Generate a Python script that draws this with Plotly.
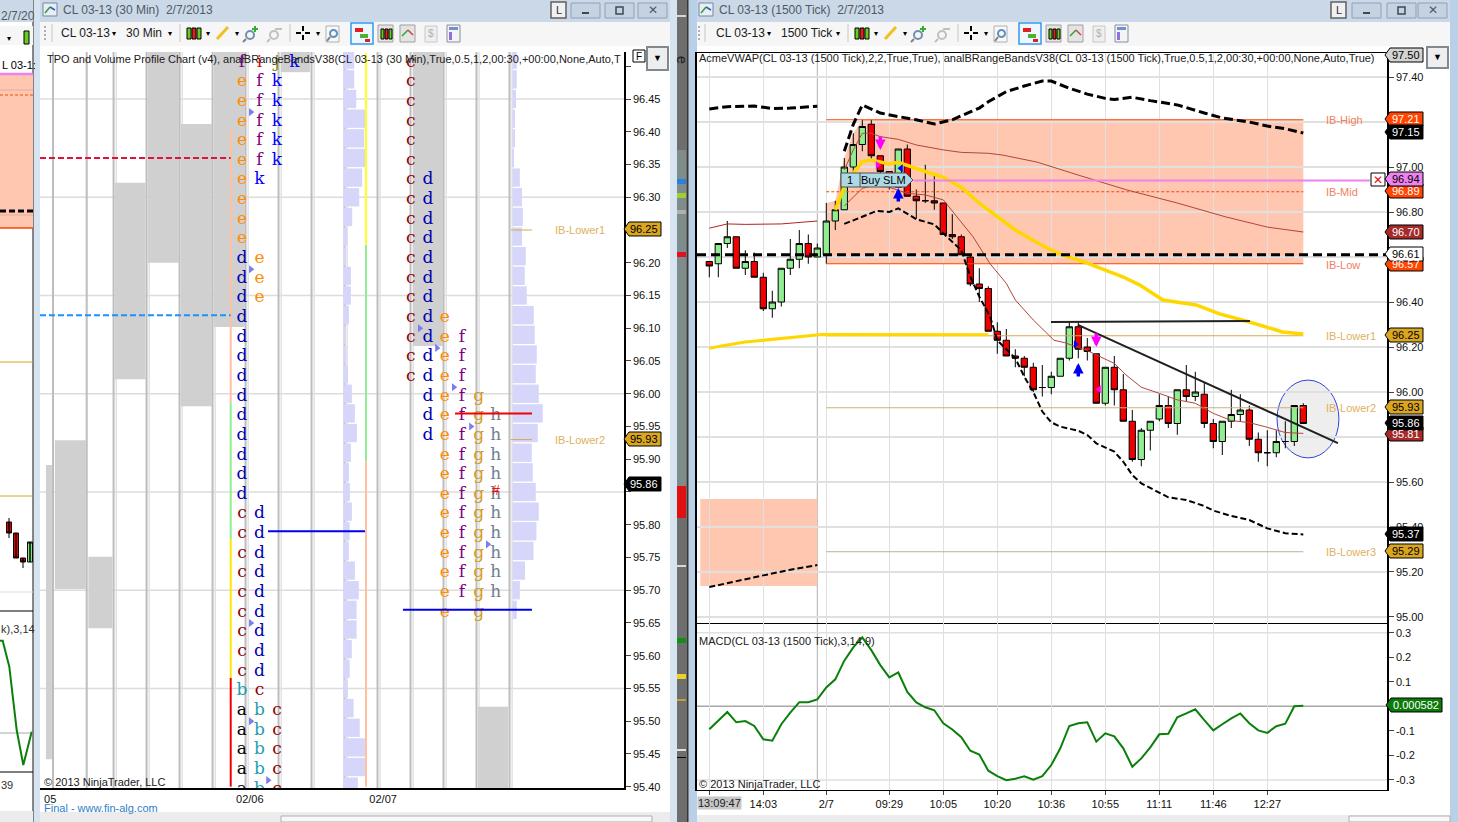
import plotly.graph_objects as go

W, H = 1458, 822

# ---- right chart, 1500 tick candles
bar_idx = list(range(67))
cd_open = [96.58,96.57,96.66,96.69,96.55,96.58,96.51,96.37,96.40,96.55,96.59,96.66,96.60,96.61,96.76,96.81,97.00,97.10,97.19,97.05,
           96.98,96.91,97.08,96.87,96.85,96.85,96.84,96.70,96.69,96.60,96.48,96.46,96.27,96.23,96.16,96.15,96.11,96.02,96.02,96.07,
           96.15,96.29,96.20,96.17,95.95,96.11,96.01,95.87,95.70,95.83,95.88,95.94,95.86,96.01,95.98,95.99,95.86,95.78,95.87,95.90,
           95.92,95.79,95.73,95.73,95.78,95.78,95.94]
cd_high = [96.58,96.66,96.76,96.69,96.63,96.62,96.53,96.45,96.55,96.68,96.72,96.70,96.66,96.84,96.85,97.04,97.15,97.21,97.21,97.05,
           96.98,97.08,97.10,96.90,97.01,96.96,96.84,96.79,96.70,96.61,96.55,96.47,96.31,96.28,96.19,96.16,96.13,96.12,96.09,96.15,
           96.31,96.31,96.24,96.17,96.11,96.16,96.08,95.92,95.84,95.87,95.99,95.98,96.01,96.12,96.09,96.04,95.88,95.87,96.01,95.99,
           95.94,95.82,95.83,95.83,95.87,95.94,95.95]
cd_low = [96.51,96.51,96.64,96.55,96.52,96.51,96.36,96.33,96.38,96.52,96.55,96.57,96.60,96.57,96.72,96.81,96.97,97.07,97.03,96.97,
          96.90,96.91,96.87,96.77,96.84,96.81,96.70,96.68,96.61,96.47,96.40,96.27,96.17,96.16,96.11,96.07,96.00,95.98,95.99,96.07,
          96.14,96.15,96.14,95.95,95.94,95.94,95.87,95.69,95.67,95.74,95.87,95.84,95.81,95.96,95.96,95.84,95.75,95.72,95.84,95.87,
          95.76,95.69,95.67,95.71,95.75,95.76,95.86]
cd_close = [96.56,96.66,96.69,96.55,96.58,96.51,96.37,96.40,96.55,96.59,96.66,96.60,96.64,96.76,96.81,97.00,97.10,97.18,97.05,96.98,
            96.92,97.08,96.87,96.85,96.85,96.84,96.70,96.69,96.61,96.48,96.46,96.27,96.23,96.16,96.15,96.11,96.01,96.02,96.07,96.15,
            96.29,96.19,96.18,95.95,96.11,96.01,95.87,95.70,95.83,95.87,95.94,95.86,96.01,95.98,96.00,95.86,95.78,95.87,95.90,95.92,
            95.79,95.73,95.73,95.78,95.78,95.94,95.86]

macd = [-0.093,-0.056,-0.023,-0.065,-0.060,-0.080,-0.134,-0.140,-0.073,-0.026,0.017,0.017,0.028,0.077,0.110,0.186,0.240,0.281,0.229,0.168,
        0.118,0.138,0.059,0.016,-0.004,-0.016,-0.069,-0.094,-0.126,-0.181,-0.196,-0.262,-0.284,-0.301,-0.295,-0.285,-0.299,-0.284,-0.239,-0.171,
        -0.080,-0.069,-0.065,-0.144,-0.110,-0.122,-0.171,-0.246,-0.212,-0.167,-0.114,-0.112,-0.045,-0.029,-0.012,-0.056,-0.098,-0.073,-0.049,-0.029,
        -0.069,-0.098,-0.108,-0.081,-0.071,0.000,0.002]

band_up_prev_x = [0,2,5,7,9,12]
band_up_prev = [97.258,97.268,97.271,97.260,97.262,97.270]
band_up_x = [15,16,17,19,21,23,25,27,29,30,31,33,35,37,38,40,42,44,45,47,49,52,55,57,60,62,64,66]
band_up = [97.07,97.19,97.276,97.24,97.224,97.21,97.191,97.21,97.245,97.262,97.29,97.335,97.36,97.382,97.382,97.35,97.324,97.305,97.30,97.31,97.295,97.276,97.24,97.218,97.20,97.182,97.17,97.151]
band_lo_prev_x = [0,3,6,9,12]
band_lo_prev = [95.133,95.16,95.185,95.21,95.231]
band_lo_x = [15,17,18.6,20,21,23,25,26,28,29,30,31.2,32,34,35,36,37,38,39,41,42,43,45,46,47,48,50,51,53,55,56,58,60,62,64,66]
band_lo = [96.747,96.78,96.805,96.80,96.816,96.768,96.745,96.705,96.63,96.513,96.424,96.335,96.23,96.15,96.068,96.0,95.913,95.865,95.846,95.828,95.809,95.772,95.735,95.69,95.631,95.594,95.553,95.532,95.52,95.493,95.473,95.449,95.431,95.394,95.372,95.367]

vwap_prev_x = [0,1.5,4,7.5,12,12.5,31]
vwap_prev = [96.194,96.206,96.222,96.236,96.252,96.256,96.254]
vwap_x = [14,15,16,17,18,19,20,21,22,24,26,28,30,32,34,37.5,39,42,46,47.8,50.4,54.1,56.7,60,63.7,66]
vwap = [96.809,96.913,96.972,97.024,97.031,97.024,97.014,97.021,97.006,96.98,96.954,96.91,96.839,96.78,96.72,96.64,96.613,96.573,96.511,96.476,96.409,96.387,96.347,96.311,96.267,96.258]

ma_prev_x = [0,2,4,8,12]
ma_prev = [96.728,96.747,96.745,96.747,96.76]
ma_up_x = [15,16,17,18,19,21,23,26,28,31,32.6,36.4,41,46.4,52,57.4,62,66]
ma_up = [96.987,97.076,97.15,97.15,97.135,97.123,97.098,97.076,97.065,97.061,97.053,97.022,96.964,96.898,96.84,96.778,96.733,96.711]
ma_lo_x = [15,16,17,18,20,22,24,26,27.5,29.3,31.2,33,34,36,38.3,39.5,42,44,45,46.3,48,50,52,54,56,58,60,62,64,66]
ma_lo = [96.827,96.868,96.905,96.916,96.91,96.883,96.876,96.854,96.78,96.69,96.57,96.483,96.409,96.32,96.23,96.219,96.184,96.145,96.127,96.076,96.021,95.994,95.965,95.95,95.905,95.873,95.864,95.843,95.82,95.816]

ib_shape_x = [13,13,14,15,16,17,66]
ib_shape_hi = [96.57,96.84,96.85,97.04,97.15,97.21,97.21]
ib_low, ib_mid, ib_high = 96.57, 96.89, 97.21
ib_lower1, ib_lower2, ib_lower3 = 96.25, 95.93, 95.29
day_open_line, order_price = 96.61, 96.94

down_x, down_tip = [19,43], [97.076,96.20]
up_x, up_tip = [21,41], [96.907,96.129]
tri_r_x, tri_r_y, tri_r_c = [18.7,40.7], [97.009,96.212], ["#FF00FF","#0000FF"]
tri_l_x, tri_l_y, tri_l_c = [21.3,43.3], [96.994,96.012], ["#0000FF","#FF00FF"]

main_ticks = [97.4,97.2,97.0,96.8,96.6,96.4,96.2,96.0,95.8,95.6,95.4,95.2,95.0]
main_ticktext = ["97.40","","97.00","96.80","","96.40","96.20","96.00","","95.60","95.40","95.20","95.00"]
macd_ticks = [0.3,0.2,0.1,-0.1,-0.2,-0.3]
macd_ticktext = ["0.3","0.2","0.1","-0.1","-0.2","-0.3"]
time_ticks = [6,13,20,26,32,38,44,50,56,62]
time_text = ["14:03","2/7","09:29","10:05","10:20","10:36","10:55","11:11","11:46","12:27"]

# ---- left chart, TPO profile
price_rows = [96.51,96.48,96.45,96.42,96.39,96.36,96.33,96.30,96.27,96.24,96.21,96.18,96.15,96.12,96.09,96.06,96.03,96.00,95.97,95.94,
              95.91,95.88,95.85,95.82,95.79,95.76,95.73,95.70,95.67,95.64,95.61,95.58,95.55,95.52,95.49,95.46,95.43,95.40]
tpo_left = ["fijk","efk","efk","efk","efk","efk","ek","e","e","e","de","de","de","d","d","d","d","d","d","d",
            "d","d","d","cd","cd","cd","cd","cd","cd","cd","cd","cd","bc","abc","abc","abc","abc","abc"]
tpo_right = ["c","c","c","c","c","c","cd","cd","cd","cd","cd","cd","cd","cde","cdef","cdef","cdef","defg","defgh","defgh",
             "efgh","efgh","efgh","efgh","efgh","efgh","efgh","efgh","eg","","","","","","","","",""]
vol_left = [11,11,13,22,21,22,19,16,9,4,3,7.7,7.7,5.7,2,3.3,4.7,8.7,11.7,13.7,
            7.7,5.7,6.7,8.7,6.5,5.6,11.7,15.6,13.4,13.4,8.6,6.5,4.3,10.4,16.5,21.7,21.7,14.7]
vol_right = [4.3,4.3,3.5,2.6,2.6,1.3,7.4,9.5,10.4,9.5,13.3,12.3,14.3,21.3,22.3,24.3,23.3,26.3,30.3,25.3,
             19.3,20.3,23.3,26.3,24,21,12.5,7.4,4.3,0,0,0,0,0,0,0,0,0]
gray_x = [3.51,2.50,4.51,5.51,7.51,11.53,0.04,0.69,1.60,13.50]
gray_lo = [96.20,96.022,95.981,96.102,96.491,96.073,95.442,95.702,95.642,95.39]
gray_hi = [96.53,96.322,96.412,96.53,96.53,96.53,95.891,95.929,95.751,95.522]
gray_w = [0.94,0.94,0.94,0.94,0.88,0.91,0.18,0.94,0.73,0.91]
left_ticks = [96.50,96.45,96.40,96.35,96.30,96.25,96.20,96.15,96.10,96.05,96.00,95.95,95.90,95.85,95.80,95.75,95.70,95.65,95.60,95.55,95.50,95.45,95.40]
left_ticktext = ["","96.45","96.40","96.35","96.30","","96.20","96.15","96.10","96.05","96.00","95.95","95.90","","95.80","95.75","95.70","95.65","95.60","95.55","95.50","95.45","95.40"]
left_grid = [96.45,96.30,96.15,96.00,95.85,95.70,95.55]
left_dark_vlines = [0.164,1.185,2,3,4,5,6,7,8,9,10,11,12,13,14]
left_light_vlines = [2.08,3.08,4.08,5.08,6.08,7.08,8.08,9.08,10.08,11.08,12.08,13.08,14.08]
left_date_x = [0.08,6.13,10.17]
left_date_text = ["05","02/06","02/07"]
profile_tri_x = [6.16,11.28,11.80,12.31,12.83,6.16,6.16,6.68,13.34,6.16]
profile_tri_y = [96.19,96.10,96.07,96.01,95.95,95.65,95.50,95.41,95.77,96.43]
letter_colors = dict(a="#000000", b="#1E9EB0", c="#8B0000", d="#0000B0", e="#FF8C00", f="#800080",
                     g="#D29B1E", h="#708090", i="#E00000", j="#808000", k="#0000FF")

# ---- sliver of the window behind
bg_cd_x, bg_cd_o, bg_cd_h, bg_cd_l, bg_cd_c = [9,16,23,30], [522,533,558,562], [518,533,558,542], [538,558,568,562], [533,558,562,542]
bg_macd_x = [0,2.7,9.3,16.7,23.3,31.7]
bg_macd_y = [640.7,640.7,666.7,730,765,731.7]

shapes, notes = [], []


def px(x):
    return x / W


def py(y):
    return 1 - y / H


def box(x0, y0, x1, y1, fill=None, line=None, w=1, layer="below"):
    shapes.append(dict(type="rect", xref="paper", yref="paper", x0=px(x0), x1=px(x1), y0=py(y0), y1=py(y1),
                       fillcolor=fill or "rgba(0,0,0,0)", line=dict(color=line or "rgba(0,0,0,0)", width=w if line else 0), layer=layer))


def seg(x0, y0, x1, y1, color, w=1, dash="solid", layer="below"):
    shapes.append(dict(type="line", xref="paper", yref="paper", x0=px(x0), x1=px(x1), y0=py(y0), y1=py(y1),
                       line=dict(color=color, width=w, dash=dash), layer=layer))


def ring(x0, y0, x1, y1, color, w=1.5, fill=None):
    shapes.append(dict(type="circle", xref="paper", yref="paper", x0=px(x0), x1=px(x1), y0=py(y0), y1=py(y1),
                       fillcolor=fill or "rgba(0,0,0,0)", line=dict(color=color, width=w), layer="below"))


def note(x, y, text, size=11, color="black", anchor="left", family="Liberation Sans", angle=0, bg=None):
    notes.append(dict(x=px(x), y=py(y), xref="paper", yref="paper", text=text, showarrow=False, xanchor=anchor, yanchor="middle",
                      font=dict(size=size, color=color, family=family), textangle=angle, borderpad=0, bgcolor=bg))


def tag(value, y, fill, color="white", x0=1390, x1=1423, left=None):
    # price marker, pointing left at the axis
    tip = x0 - 5
    pts = [(tip, y), (x0, y - 7), (x1, y - 7), (x1, y + 7), (x0, y + 7)]
    path = "M " + " L ".join(f"{px(a):.5f},{py(b):.5f}" for a, b in pts) + " Z"
    shapes.append(dict(type="path", xref="paper", yref="paper", path=path, fillcolor=fill, line=dict(color="black", width=1), layer="above"))
    note((x0 + x1) / 2 - 1, y, value, 11, color, "center")


def arrow(x, tip, color, tail_px):
    notes.append(dict(x=x, y=tip, xref="x2", yref="y2", ax=0, ay=tail_px, text="", showarrow=True, arrowhead=2, arrowsize=0.6,
                      arrowwidth=3.5, arrowcolor=color))


def toolbar(off):
    # icon row of a chart window, off is the shift from the left window
    seg(180 + off, 24, 180 + off, 42, "#C8C8C8")
    for a, c in [(187, "#66CC22"), (192, "#E02020"), (197, "#66CC22")]:
        box(a + off, 28, a + 4 + off, 39, c, "black")
    note(205 + off, 33, "▾", 8)
    seg(217 + off, 39, 228 + off, 27, "#F0C020", 3)
    note(234 + off, 33, "▾", 8)
    ring(246 + off, 31, 254 + off, 39, "#7090B0", 2)
    seg(246 + off, 39, 243 + off, 42, "#808080", 2)
    seg(255 + off, 26, 255 + off, 32, "#30B030", 2)
    seg(252 + off, 29, 258 + off, 29, "#30B030", 2)
    ring(270 + off, 31, 278 + off, 39, "#C0C0C0", 2)
    seg(270 + off, 39, 267 + off, 42, "#C0C0C0", 2)
    seg(275 + off, 29, 282 + off, 29, "#C0C0C0", 2)
    seg(290 + off, 24, 290 + off, 42, "#C8C8C8")
    seg(296 + off, 33, 301 + off, 33, "black", 2)
    seg(305 + off, 33, 310 + off, 33, "black", 2)
    seg(303 + off, 26, 303 + off, 31, "black", 2)
    seg(303 + off, 35, 303 + off, 40, "black", 2)
    note(315 + off, 33, "▾", 8)
    box(326 + off, 26, 339 + off, 42, "#F8F8F8", "#B0B0B0")
    ring(330 + off, 30, 337 + off, 37, "#6090C0", 2)
    seg(330 + off, 37, 327 + off, 41, "#808080", 2)
    box(351 + off, 23, 373 + off, 44, "#EEF6FF", "#3399EE", 1.5)
    box(355 + off, 28, 363 + off, 32, "#E02020")
    box(360 + off, 34, 368 + off, 38, "#50B030")
    box(365 + off, 39, 370 + off, 42, "#E02020")
    box(378 + off, 25, 393 + off, 42, "#E4E4E4", "#A0A0A0")
    for a, c in [(381, "#66CC22"), (385, "#E02020"), (389, "#66CC22")]:
        box(a + off, 29, a + 3 + off, 39, c, "black")
    box(400 + off, 25, 415 + off, 42, "#E4E4E4", "#A0A0A0")
    seg(402 + off, 36, 408 + off, 30, "#30A030", 1.5)
    seg(408 + off, 30, 413 + off, 35, "#D04040", 1.5)
    box(425 + off, 26, 437 + off, 42, "#EFEFEF", "#C8C8C8")
    note(431 + off, 34, "$", 10, "#B0B0B0", "center")
    box(447 + off, 25, 460 + off, 42, "#F4F4F4", "#8090A0")
    box(449 + off, 27, 458 + off, 30, "#7090D0")
    box(449 + off, 32, 452 + off, 40, "#9070E0")


def title_bar(x0, x1, icon, title, lbtn, mbtn, xbtn, cbtn):
    box(x0, 0, x1, 22, "#CBD8E8")
    box(x0, 22, x1, 46, "#F6F6F6")
    box(icon, 3, icon + 14, 16, "#E8EEF4", "#7088A0")
    seg(icon + 2, 13, icon + 7, 7, "#30A030", 1.5)
    seg(icon + 7, 7, icon + 12, 10, "#3060C0", 1.5)
    note(icon + 19, 10, title, 12, "#505A64")
    box(lbtn, 2, lbtn + 15, 18, "#F0F0F0", "#606060", 1.5)
    note(lbtn + 7.5, 10, "L", 11, "#303030", "center")
    for a in (mbtn, xbtn, cbtn):
        box(a, 3, a + 29, 18, "#C4D2E2", "#8FA2B6")
    seg(mbtn + 11, 13, mbtn + 18, 13, "#404850", 2)
    box(xbtn + 11, 7, xbtn + 18, 14, None, "#404850", 1.5)
    note(cbtn + 14.5, 10, "✕", 12, "#505A64", "center")


# ---- window frames and the strip between the windows
box(33, 0, 40, H, "#D6E3F1")
box(670, 0, 677, H, "#D6E3F1")
seg(33, 0, 33, H, "#606060", 1.5)
box(677, 0, 688, H, "#6E6E6E")
seg(688, 0, 688, H, "black", 1)
box(689, 0, 697, H, "#B8D0E8")
box(1450, 0, W, H, "#B8D0E8")
box(677, 150, 686, 490, "#7E8C8C")
for y0, y1, c in [(15, 17, "#D8D8D8"), (179, 184, "#2A80E0"), (193, 198, "#A0D030"), (210, 214, "#B0B0B0"), (252, 257, "#E01020"),
                  (486, 518, "#E01010"), (565, 567, "#D8D8D8"), (638, 643, "#109010"), (674, 679, "#F0D020"), (699, 701, "#C0A030"),
                  (749, 751, "#E0E0E0"), (757, 758, "black")]:
    box(677, y0, 686, y1, c)
note(682, 60, "e", 14, "#202020", "center", angle=90)

# ---- window behind, far left
box(0, 0, 33, 22, "#CBD8E8")
note(0, 16, "2/7/20", 12, "#505A64")
box(0, 26, 33, 45, "#F6F6F6")
note(6, 38, "▾", 8)
box(24, 31, 29, 44, "#66CC22", "black")
note(1, 65, "L 03-1:", 11, "black")
box(0, 75, 33, 228, "#FFC6B0")
seg(0, 74, 33, 74, "#EE82EE", 2.5)
seg(0, 90, 33, 90, "#E4AE9C")
seg(0, 95, 33, 95, "#FF4500", 1, "3px,2px")
seg(0, 215, 33, 215, "#E4AE9C")
seg(0, 211, 33, 211, "black", 3, "6px,3px")
seg(0, 228, 33, 228, "#FF4500", 1.5)
seg(0, 362, 33, 362, "#DAA520")
seg(0, 496, 33, 496, "#DAA520")
seg(0, 592, 33, 592, "#DCDCDC")
seg(0, 611, 33, 611, "black")
note(0, 629, "k),3,14", 11, "#303030")
seg(0, 733, 33, 733, "#A8A8A8")
seg(0, 772, 33, 772, "black")
note(0, 785, "39", 11, "#303030")
box(0, 811, 33, 822, "#ECECEC")

# ---- left window chrome
title_bar(40, 670, 43, "CL 03-13 (30 Min)  2/7/2013", 551, 571, 605, 638)
seg(45, 26, 45, 42, "#B0B0B0", 2, "2px,2px")
seg(52, 24, 52, 42, "#C8C8C8")
note(60, 33, "CL 03-13", 12, "#202020")
note(111, 33, "▾", 8)
note(125, 33, "30 Min", 12, "#202020")
note(167, 33, "▾", 8)
toolbar(0)
box(633, 50, 645, 62, "white", "black")
note(639, 56, "F", 10, "black", "center")
box(647, 47, 668, 70, "#EEEEEE", "#808890", 2)
note(657.5, 58, "▼", 9, "black", "center")
box(40, 812, 670, 822, "#ECECEC")
box(281, 816, 652, 822, "#F8F8F8", "#B0B0B0")

# ---- right window chrome
title_bar(697, 1450, 699, "CL 03-13 (1500 Tick)  2/7/2013", 1331, 1352, 1387, 1418)
seg(699, 26, 699, 42, "#B0B0B0", 2, "2px,2px")
seg(705, 24, 705, 42, "#C8C8C8")
note(715, 33, "CL 03-13", 12, "#202020")
note(766, 33, "▾", 8)
note(780, 33, "1500 Tick", 12, "#202020")
note(835, 33, "▾", 8)
toolbar(668)
box(1427, 47, 1448, 68, "#EEEEEE", "#808890", 2)
note(1437.5, 57, "▼", 9, "black", "center")
box(697, 815, 1450, 822, "#ECECEC")
box(1349, 816, 1450, 822, "#F8F8F8", "#B0B0B0")

# ---- shapes tied to the axes
ib_path = "M " + " L ".join(f"{a},{b}" for a, b in zip(ib_shape_x, ib_shape_hi)) + f" L 66,{ib_low} Z"
shapes.append(dict(type="path", xref="x2", yref="y2", path=ib_path, fillcolor="#FFC6B0", line=dict(width=0), layer="below"))
shapes.append(dict(type="rect", xref="x2", yref="y2", x0=-1, x1=12, y0=95.138, y1=95.524, fillcolor="#FFC6B0", line=dict(width=0), layer="below"))
shapes.append(dict(type="circle", xref="x2", yref="y2", x0=63.08, x1=69.96, y0=95.707, y1=96.053, fillcolor="#EEEEEE", line=dict(color="#3344DD", width=1), layer="below"))
for ax, yd in (("x2", "y2 domain"), ("x3", "y3 domain")):
    shapes.append(dict(type="line", xref=ax, yref=yd, x0=12, x1=12, y0=0, y1=1, line=dict(color="#B0B0B0", width=1), layer="below"))
for v in (0.3, -0.3):
    shapes.append(dict(type="line", xref="x3 domain", yref="y3", x0=0, x1=1, y0=v, y1=v, line=dict(color="#E0E0E0", width=1.5), layer="below"))
shapes.append(dict(type="line", xref="x3 domain", yref="y3", x0=0, x1=1, y0=0, y1=0, line=dict(color="#A8A8A8", width=1.5), layer="below"))
for v in left_grid:
    shapes.append(dict(type="line", xref="x domain", yref="y", x0=0, x1=1, y0=v, y1=v, line=dict(color="#DCDCDC", width=1.5), layer="below"))
for v in left_dark_vlines:
    shapes.append(dict(type="line", xref="x", yref="y domain", x0=v, x1=v, y0=0, y1=1, line=dict(color="#BDBDBD", width=2), layer="below"))
for v in left_light_vlines:
    shapes.append(dict(type="line", xref="x", yref="y domain", x0=v, x1=v, y0=0, y1=1, line=dict(color="#E2E2E2", width=1.5), layer="below"))
# trend lines on the tick chart
shapes.append(dict(type="line", xref="x2", yref="y2", x0=37.97, x1=60.08, y0=96.311, y1=96.316, line=dict(color="#202020", width=2), layer="above"))
shapes.append(dict(type="line", xref="x2", yref="y2", x0=40.96, x1=69.85, y0=96.298, y1=95.773, line=dict(color="#202020", width=2), layer="above"))

# ---- order label
pts = [(841, 173), (906, 173), (913, 180), (906, 187), (841, 187)]
shapes.append(dict(type="path", xref="paper", yref="paper", fillcolor="#ADD8E6", line=dict(color="#505050", width=1), layer="above",
                   path="M " + " L ".join(f"{px(a):.5f},{py(b):.5f}" for a, b in pts) + " Z"))
seg(860, 173, 860, 187, "#505050", 1, layer="above")
note(850, 180, "1", 11, "black", "center")
note(883, 180, "Buy SLM", 11, "black", "center")
box(1371, 173, 1385, 186, "white", "black", 1, "above")
note(1378, 179.5, "✕", 12, "#E01010", "center")

# ---- tags
for value, y, fill, color in [("97.50", 55, "#D3D3D3", "black"), ("97.21", 119, "#FF4500", "white"), ("97.15", 132, "black", "white"),
                              ("96.89", 191, "#FF4500", "white"), ("96.94", 179, "#EE82EE", "black"), ("96.70", 232, "#A52A2A", "white"),
                              ("96.57", 264, "#FF4500", "white"), ("96.61", 254, "white", "black"), ("96.25", 335, "#DAA520", "black"),
                              ("95.93", 407, "#DAA520", "black"), ("95.81", 434, "#A52A2A", "white"), ("95.86", 423, "black", "white"),
                              ("95.37", 534, "black", "white"), ("95.29", 551, "#DAA520", "black")]:
    tag(value, y, fill, color)
tag("0.000582", 705, "#0A7A0A", "white", 1391, 1442)
tag("96.25", 229, "#DAA520", "black", 629, 661)
tag("95.93", 439, "#DAA520", "black", 629, 661)
tag("95.86", 484, "black", "white", 629, 661)

# ---- plain texts
note(46, 59, "TPO and Volume Profile Chart (v4), analBRangeBandsV38(CL 03-13 (30 Min),True,0.5,1,2,00:30,+00:00,None,Auto,T", 11, "#202020")
note(698, 58, "AcmeVWAP(CL 03-13 (1500 Tick),2,2,True,True), analBRangeBandsV38(CL 03-13 (1500 Tick),True,0.5,1,2,00:30,+00:00,None,Auto,True)", 11, "#202020")
note(43, 782, "© 2013 NinjaTrader, LLC", 11, "#202020")
note(698, 784, "© 2013 NinjaTrader, LLC", 11, "#202020")
note(698, 641, "MACD(CL 03-13 (1500 Tick),3,14,9)", 11, "#202020")
note(43, 808, "Final - www.fin-alg.com", 11, "#3080C8")
note(697, 803, "13:09:47", 11, "#202020", bg="#C8C8C8")
for x, y, t, c in [(1325, 120, "IB-High", "#F08060"), (1325, 192, "IB-Mid", "#F08060"), (1325, 265, "IB-Low", "#F08060"),
                   (1325, 336, "IB-Lower1", "#E0B060"), (1325, 408, "IB-Lower2", "#E0B060"), (1325, 552, "IB-Lower3", "#E0B060"),
                   (554, 230, "IB-Lower1", "#E0B060"), (554, 440, "IB-Lower2", "#E0B060")]:
    note(x, y, t, 11, c)

for x, tip in zip(down_x, down_tip):
    arrow(x, tip, "#FF00FF", -15)
for x, tip in zip(up_x, up_tip):
    arrow(x, tip, "#0000F0", 15)

fig = go.Figure()


def line(xs, ys, color, width=1, dash="solid", axes=("x2", "y2")):
    fig.add_trace(go.Scatter(x=xs, y=ys, mode="lines", line=dict(color=color, width=width, dash=dash),
                             xaxis=axes[0], yaxis=axes[1], hoverinfo="skip"))


def marks(xs, ys, symbol, color, size, axes=("x2", "y2")):
    fig.add_trace(go.Scatter(x=xs, y=ys, mode="markers", marker=dict(symbol=symbol, color=color, size=size, line=dict(width=0)),
                             xaxis=axes[0], yaxis=axes[1], hoverinfo="skip"))


# ---- left profile chart
fig.add_trace(go.Bar(x=gray_x, y=[b - a for a, b in zip(gray_lo, gray_hi)], base=gray_lo, width=gray_w,
                     marker=dict(color="#D0D0D0", line=dict(width=0)), xaxis="x", yaxis="y"))
fig.add_trace(go.Bar(y=price_rows, x=[v / 33 for v in vol_left], base=8.96, orientation="h", width=0.028,
                     marker=dict(color="#D6D6FA", line=dict(width=0)), xaxis="x", yaxis="y"))
fig.add_trace(go.Bar(y=price_rows, x=[v / 33 for v in vol_right], base=14.09, orientation="h", width=0.028,
                     marker=dict(color="#D6D6FA", line=dict(width=0)), xaxis="x", yaxis="y"))

left_ax = ("x", "y")
for y0, y1, c in [(96.407, 95.987, "#FFC0A0"), (95.987, 95.778, "#90EE90"), (95.778, 95.566, "#FFE600"), (95.566, 95.40, "#F00000")]:
    line([5.55, 5.55], [y0, y1], c, 2, axes=left_ax)
for y0, y1, c in [(96.52, 96.227, "#FFFF20"), (96.227, 95.897, "#90EE90"), (95.897, 95.40, "#FFC0A0")]:
    line([9.65, 9.65], [y0, y1], c, 2, axes=left_ax)

line([-0.23, 5.55], [96.36, 96.36], "#DC143C", 2, "6px,3px", left_ax)
line([-0.23, 5.55], [96.12, 96.12], "#1E90FF", 2, "6px,3px", left_ax)

# letters sit a little under their price row
tpo_x, tpo_y, tpo_t, tpo_c = [], [], [], []
for p, row in zip(price_rows, tpo_left):
    for col, ch in enumerate(row):
        tpo_x.append(5.89 + col * 0.53)
        tpo_y.append(p - 0.004)
        tpo_t.append(ch)
        tpo_c.append(letter_colors[ch])
for p, row in zip(price_rows, tpo_right):
    for ch in row:
        tpo_x.append(11.01 + "cdefgh".index(ch) * 0.515)
        tpo_y.append(p - 0.004)
        tpo_t.append(ch)
        tpo_c.append(letter_colors[ch])
fig.add_trace(go.Scatter(x=tpo_x, y=tpo_y, text=tpo_t, mode="text", textposition="middle center", cliponaxis=True,
                         textfont=dict(family="DejaVu Serif", size=17, color=tpo_c), xaxis="x", yaxis="y", hoverinfo="skip"))
fig.add_trace(go.Scatter(x=[13.59], y=[95.85], text=["#"], mode="text", textposition="middle center",
                         textfont=dict(family="Liberation Sans", size=14, color="#F01010"), xaxis="x", yaxis="y", hoverinfo="skip"))
marks(profile_tri_x, profile_tri_y, "triangle-right", "#7C7CF0", 7, left_ax)
line([6.68, 9.62], [95.79, 95.79], "#0000F0", 2, axes=left_ax)
line([10.77, 14.68], [95.67, 95.67], "#0000F0", 2, axes=left_ax)
line([12.35, 14.68], [95.97, 95.97], "#F00000", 2, axes=left_ax)
line([14.04, 14.68], [96.25, 96.25], "#D8A850", 1, axes=left_ax)
line([14.04, 14.68], [95.93, 95.93], "#D8A850", 1, axes=left_ax)

# ---- right tick chart
fig.add_trace(go.Candlestick(x=bar_idx, open=cd_open, high=cd_high, low=cd_low, close=cd_close, whiskerwidth=0,
                             increasing=dict(fillcolor="#90EE90", line=dict(color="black", width=1)),
                             decreasing=dict(fillcolor="#F00000", line=dict(color="black", width=1)),
                             xaxis="x2", yaxis="y2", hoverinfo="skip"))
line([13, 66], [ib_high, ib_high], "#FF4500", 1)
line([13, 66], [ib_low, ib_low], "#FF4500", 1)
line([13, 66], [ib_mid, ib_mid], "#FF4500", 1, "3px,2px")
line([13, 66], [ib_lower1, ib_lower1], "#D8A850", 1)
line([13, 66], [ib_lower2, ib_lower2], "#C8B080", 1)
line([13, 66], [ib_lower3, ib_lower3], "#B8B098", 1)
line(ma_prev_x, ma_prev, "#B22222", 1)
line(ma_up_x, ma_up, "#B5443A", 1)
line(ma_lo_x, ma_lo, "#B5443A", 1)
line(vwap_prev_x, vwap_prev, "#FFD700", 3)
line(vwap_x, vwap, "#FFD700", 3.5)
line([22.7, 73.4], [order_price, order_price], "#EE82EE", 2)
line([-1.367, 75.3], [day_open_line, day_open_line], "black", 3, "9px,5px")
line(band_up_prev_x, band_up_prev, "black", 3, "9px,4px")
line(band_up_x, band_up, "black", 3, "9px,4px")
line(band_lo_prev_x, band_lo_prev, "black", 2, "6px,3px")
line(band_lo_x, band_lo, "black", 2, "6px,3px")
for xs, ys, cs, s in [(tri_r_x, tri_r_y, tri_r_c, "triangle-right"), (tri_l_x, tri_l_y, tri_l_c, "triangle-left")]:
    marks(xs, ys, s, cs, 7)

line(bar_idx, macd, "#0A800A", 2, axes=("x3", "y3"))

# ---- background sliver
fig.add_trace(go.Candlestick(x=bg_cd_x, open=bg_cd_o, high=bg_cd_h, low=bg_cd_l, close=bg_cd_c, whiskerwidth=0,
                             increasing=dict(fillcolor="#F00000", line=dict(color="black", width=1)),
                             decreasing=dict(fillcolor="#90EE90", line=dict(color="black", width=1)),
                             xaxis="x4", yaxis="y4", hoverinfo="skip"))
line(bg_macd_x, bg_macd_y, "#0A800A", 2, axes=("x4", "y4"))

tick_font = dict(family="Liberation Sans", size=11, color="#101010")
fig.update_layout(
    width=W, height=H, margin=dict(l=0, r=0, t=0, b=0, autoexpand=False), showlegend=False,
    paper_bgcolor="white", plot_bgcolor="white", barmode="overlay", boxgap=0.3, boxgroupgap=0, shapes=shapes, annotations=notes,
    xaxis=dict(domain=[px(40), px(624)], range=[-0.23, 17.47], tickmode="array", tickvals=left_date_x, ticktext=left_date_text,
               showgrid=False, zeroline=False, showline=True, linecolor="black", linewidth=1.5, anchor="y", tickfont=tick_font, ticks=""),
    yaxis=dict(domain=[py(788), py(52)], range=[95.398, 96.5218], side="right", anchor="x", tickmode="array", tickvals=left_ticks, ticktext=left_ticktext,
               showgrid=False, zeroline=False, showline=True, linecolor="black", linewidth=1.5, ticks="outside", ticklen=5, tickfont=tick_font),
    xaxis2=dict(domain=[px(697), px(1387)], range=[-1.367, 75.3], tickmode="array", tickvals=[0] + time_ticks, showticklabels=False, ticks="",
                showgrid=True, gridcolor="#E0E0E0", gridwidth=1, zeroline=False, showline=True, linecolor="black", linewidth=1, mirror=True,
                anchor="y2", rangeslider=dict(visible=False)),
    yaxis2=dict(domain=[py(623), py(53)], range=[94.9733, 97.5067], side="right", anchor="x2", tickmode="array", tickvals=main_ticks, ticktext=main_ticktext,
                showgrid=True, gridcolor="#E0E0E0", gridwidth=1.5, zeroline=False, showline=True, linecolor="black", linewidth=1.5, mirror=True,
                ticks="outside", ticklen=5, tickfont=tick_font),
    xaxis3=dict(domain=[px(697), px(1387)], range=[-1.367, 75.3], tickmode="array", tickvals=[0] + time_ticks, ticktext=[""] + time_text,
                showgrid=True, gridcolor="#E0E0E0", gridwidth=1, zeroline=False, showline=True, linecolor="black", linewidth=1,
                anchor="y3", ticks="outside", ticklen=4, tickfont=tick_font),
    yaxis3=dict(domain=[py(790), py(623)], range=[-0.3408, 0.3395], side="right", anchor="x3", tickmode="array", tickvals=macd_ticks, ticktext=macd_ticktext,
                showgrid=False, zeroline=False, showline=True, linecolor="black", linewidth=1.5, mirror=True, ticks="outside", ticklen=5, tickfont=tick_font),
    xaxis4=dict(domain=[0, px(33)], range=[0, 33], visible=False, anchor="y4", rangeslider=dict(visible=False)),
    yaxis4=dict(domain=[0, 1], range=[822, 0], visible=False, anchor="x4"),
)

fig.write_html("out.html", config=dict(displayModeBar=False),
               post_script="document.body.style.margin='0';document.body.style.overflow='hidden';")
